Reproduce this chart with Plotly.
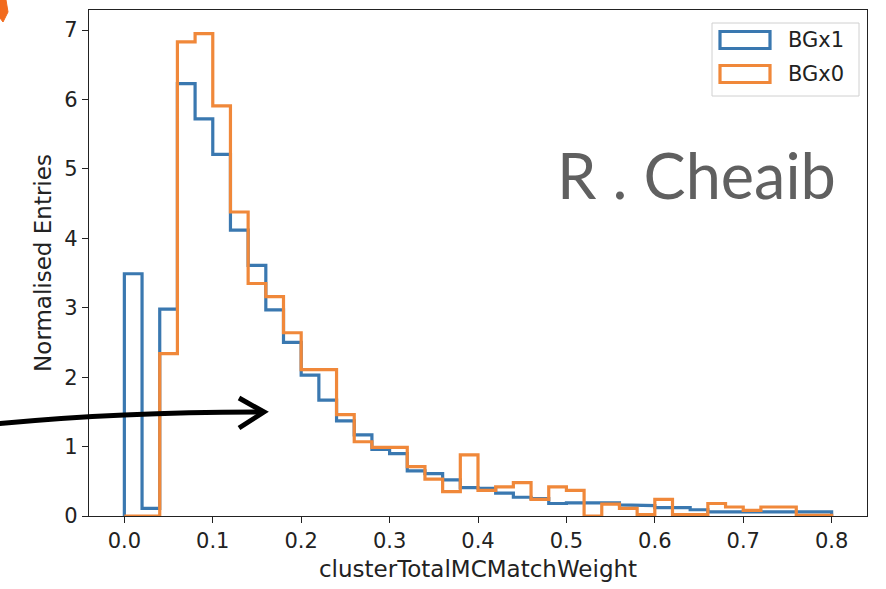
import plotly.graph_objects as go

bin_edges = [round(0.02 * i, 2) for i in range(41)]
bgx1 = [3.49, 0.11, 2.98, 6.23, 5.72, 5.21, 4.12, 3.61, 2.97, 2.50,
        2.03, 1.67, 1.37, 1.17, 0.96, 0.90, 0.65, 0.61, 0.52, 0.41,
        0.40, 0.33, 0.27, 0.25, 0.18, 0.19, 0.19, 0.19, 0.16, 0.15,
        0.12, 0.12, 0.09, 0.06, 0.06, 0.06, 0.06, 0.06, 0.07, 0.06]
bgx0 = [0.0, 0.0, 2.34, 6.83, 6.95, 5.91, 4.38, 3.35, 3.16, 2.64,
        2.11, 2.11, 1.46, 1.07, 0.99, 0.99, 0.71, 0.53, 0.35, 0.88,
        0.37, 0.42, 0.48, 0.24, 0.42, 0.37, 0.0, 0.17, 0.11, 0.02,
        0.24, 0.02, 0.02, 0.18, 0.13, 0.08, 0.13, 0.13, 0.01, 0.01]
x_ticks = [0.0, 0.1, 0.2, 0.3, 0.4, 0.5, 0.6, 0.7, 0.8]
x_tick_labels = ["0.0", "0.1", "0.2", "0.3", "0.4", "0.5", "0.6", "0.7", "0.8"]
y_ticks = [0, 1, 2, 3, 4, 5, 6, 7]
series_names = ["BGx1", "BGx0"]
BLUE = "#3a78b0"
ORANGE = "#f0883a"
FS_TICK = 21
FS_TITLE = 23


def step_path(edges, vals):
    xs, ys = [edges[0]], [0]
    for i, v in enumerate(vals):
        xs += [edges[i], edges[i + 1]]
        ys += [v, v]
    xs.append(edges[-1])
    ys.append(0)
    return xs, ys


fig = go.Figure()
for name, vals, col in [(series_names[0], bgx1, BLUE), (series_names[1], bgx0, ORANGE)]:
    xs, ys = step_path(bin_edges, vals)
    fig.add_trace(go.Scatter(x=xs, y=ys, mode="lines", name=name,
                             line=dict(color=col, width=3.2), showlegend=False,
                             hoverinfo="skip"))

# plot area in pixels
L, R, T, B = 89, 867, 10, 516
W, H = 886, 589


def px(x):
    return (x - L) / (R - L)


def py(y):
    return (B - y) / (B - T)


shapes = []
# legend box
shapes.append(dict(type="rect", xref="paper", yref="paper",
                   x0=px(712), x1=px(859), y0=py(96), y1=py(23),
                   line=dict(color="#d0d0d0", width=1), fillcolor="white", layer="above"))
for i, col in enumerate([BLUE, ORANGE]):
    yc = 40 + i * 34
    shapes.append(dict(type="rect", xref="paper", yref="paper",
                       x0=px(720), x1=px(770), y0=py(yc + 8.5), y1=py(yc - 8.5),
                       line=dict(color=col, width=3.2), fillcolor="white", layer="above"))
# arrow
shapes.append(dict(type="path", xref="paper", yref="paper",
                   path=f"M {px(-5)},{py(424)} Q {px(120)},{py(412)} {px(262)},{py(412)}",
                   line=dict(color="black", width=5), layer="above"))
shapes.append(dict(type="path", xref="paper", yref="paper",
                   path=f"M {px(239)},{py(398)} L {px(264)},{py(412)} L {px(239)},{py(428)}",
                   line=dict(color="black", width=5), layer="above"))
# orange corner blob
shapes.append(dict(type="path", xref="paper", yref="paper",
                   path=f"M {px(0)},{py(0)} L {px(6)},{py(0)} L {px(8)},{py(12)} L {px(3)},{py(22)} L {px(0)},{py(18)} Z",
                   line=dict(color="#f26b1d", width=1), fillcolor="#f26b1d", layer="above"))

annotations = []
for i, name in enumerate(series_names):
    annotations.append(dict(xref="paper", yref="paper", x=px(786), y=py(40 + i * 34),
                            text=name, showarrow=False, xanchor="left", yanchor="middle",
                            font=dict(family="DejaVu Sans", size=FS_TICK, color="#222")))
annotations.append(dict(xref="paper", yref="paper", x=px(696), y=py(174),
                        text="R . Cheaib", showarrow=False, xanchor="center", yanchor="middle",
                        font=dict(family="Lato", size=63, color="#606060")))

fig.update_layout(
    width=W, height=H,
    margin=dict(l=L, r=W - R, t=T, b=H - B, pad=0),
    paper_bgcolor="white", plot_bgcolor="white",
    shapes=shapes, annotations=annotations,
    font=dict(family="DejaVu Sans", size=FS_TICK, color="#222"),
    xaxis=dict(range=[-0.04, 0.84], tickvals=x_ticks, ticktext=x_tick_labels,
               showgrid=False, zeroline=False, showline=True, mirror=True,
               linecolor="#222", linewidth=1.3, ticks="outside", ticklen=6,
               tickcolor="#222", tickwidth=1.3,
               title=dict(text="clusterTotalMCMatchWeight", standoff=8,
                          font=dict(size=FS_TITLE))),
    yaxis=dict(range=[0, 7.29], tickvals=y_ticks,
               showgrid=False, zeroline=False, showline=True, mirror=True,
               linecolor="#222", linewidth=1.3, ticks="outside", ticklen=6,
               tickcolor="#222", tickwidth=1.3,
               title=dict(text="Normalised Entries", standoff=6,
                          font=dict(size=FS_TITLE))),
)

fig.write_html("out.html")
